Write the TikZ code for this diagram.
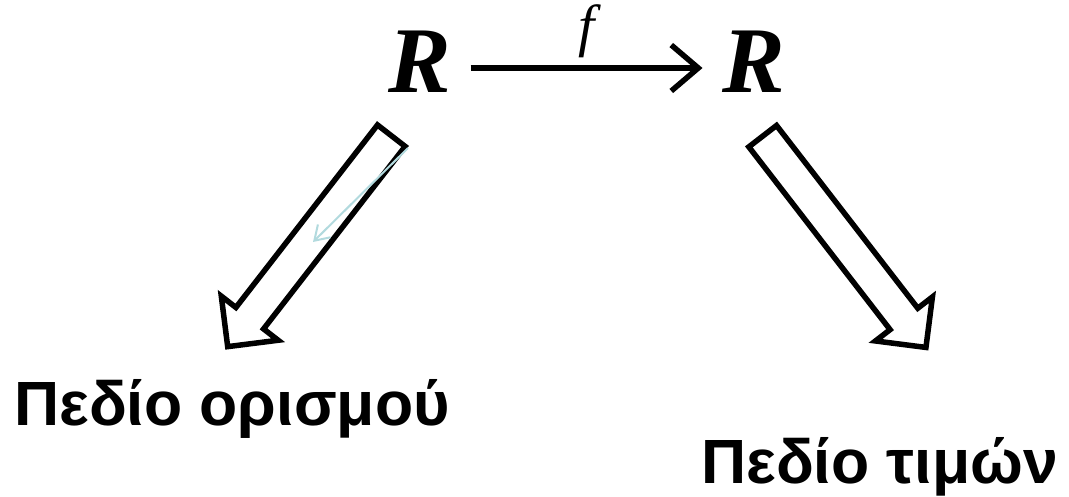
\documentclass[tikz,border=0pt]{standalone}
\usepackage{fontspec}
\setmainfont{Liberation Serif}
\newfontfamily\greeksans[Script=Greek]{Liberation Sans}
\usetikzlibrary{arrows.meta,shapes.arrows}

\definecolor{ghostcol}{RGB}{178,218,222}
\newcommand\bigsym{\fontsize{94}{100}\selectfont\bfseries\itshape}
\newcommand\mapsym{\fontsize{58}{62}\selectfont\itshape}
\newcommand\setlbl{\greeksans\bfseries\fontsize{62.5}{70}\selectfont}

\begin{document}
\begin{tikzpicture}[
    x=1pt, y=-1pt,
    sym/.style={font=\bigsym, inner xsep=19.5pt, inner ysep=0pt},
    map/.style={-{Straight Barb[length=27pt, width=46pt]}, line width=5.5pt},
    hollow/.style={single arrow, draw, line width=5.5pt,
                   inner xsep=0pt, inner ysep=14.75pt,
                   minimum width=66pt, minimum height=267pt,
                   single arrow head extend=18.5pt, anchor=tail},
    ghost/.style={draw=ghostcol, line width=2pt,
                  -{Straight Barb[length=14pt, width=18pt]}},
    lbl/.style={font=\setlbl, inner sep=0pt, anchor=base west},
  ]
  \useasboundingbox (0,0) rectangle (1069,496);

  \node[sym, anchor=base west] (dom) at (368.5,92) {R};
  \node[sym, anchor=base west] (cod) at (702.5,92) {R};
  \draw[map] ([yshift=24pt]dom.base east) -- node[above=7pt, font=\mapsym, inner sep=0pt] (fname) {f}
    ([yshift=24pt]cod.base west);

  % the two set names
  \node[lbl] (domain) at (14,425) {Πεδίο ορισμού};
  \node[lbl] (range) at (701,483) {Πεδίο τιμών};

  % hollow arrows down to the set names
  \node[hollow, rotate=232.2] (toDomain) at (393,133.5) {};
  \node[hollow, rotate=-52.3] (toRange) at (761,134) {};

  \coordinate (ghostA) at (408,148);
  \coordinate (ghostB) at (313,242);
  \draw[ghost] (ghostA) -- (ghostB);
\end{tikzpicture}
\end{document}
